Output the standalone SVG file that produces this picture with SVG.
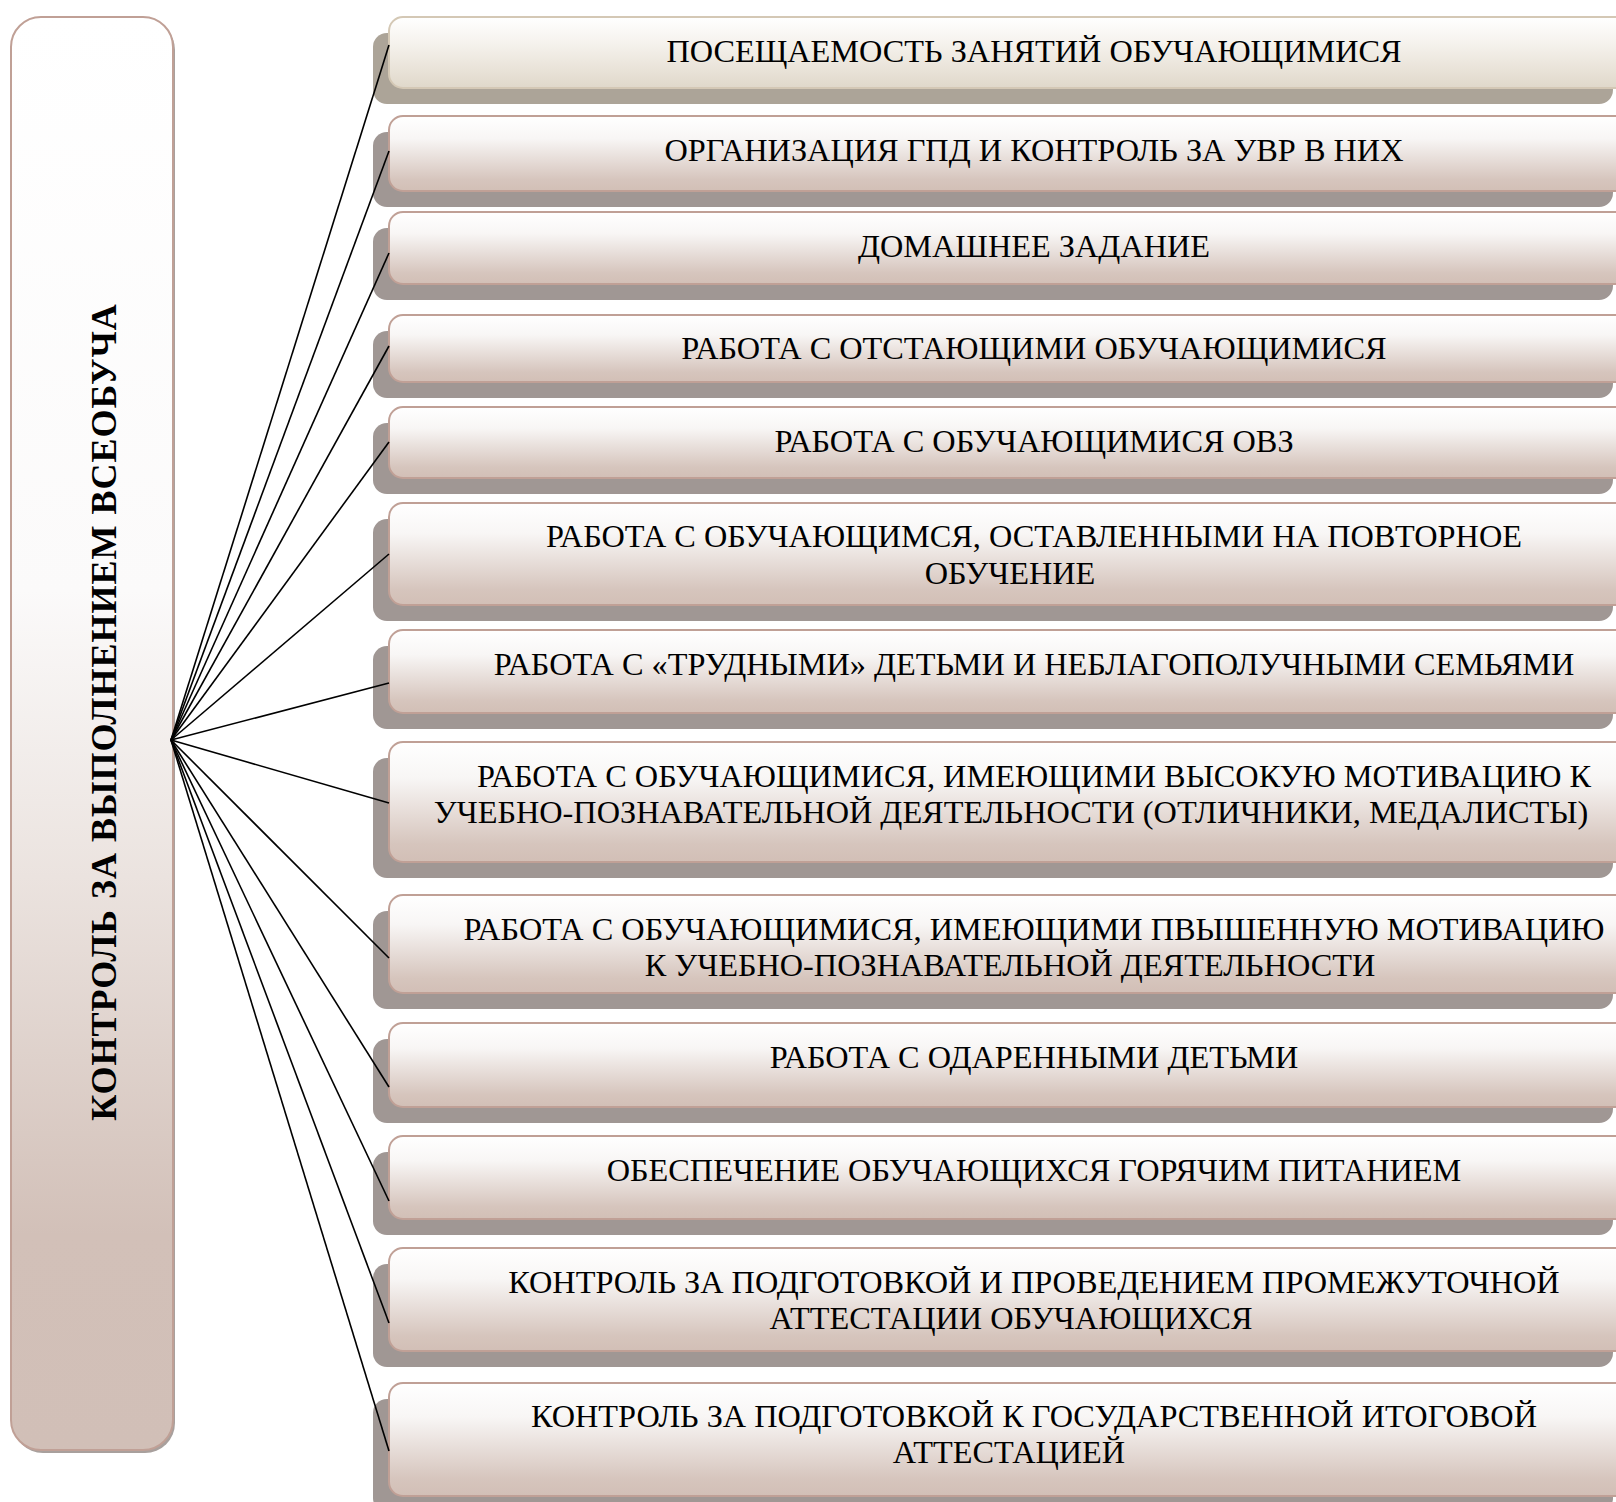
<svg xmlns="http://www.w3.org/2000/svg" width="1616" height="1502" viewBox="0 0 1616 1502">
<defs>
<linearGradient id="gBox" x1="0" y1="0" x2="0" y2="1">
<stop offset="0" stop-color="#ffffff"/>
<stop offset="0.3" stop-color="#f8f6f5"/>
<stop offset="0.85" stop-color="#d6c5bd"/>
<stop offset="1" stop-color="#d2bfb6"/>
</linearGradient>
<linearGradient id="gBox1" x1="0" y1="0" x2="0" y2="1">
<stop offset="0" stop-color="#ffffff"/>
<stop offset="0.35" stop-color="#f6f3ee"/>
<stop offset="1" stop-color="#e0d8ca"/>
</linearGradient>
<linearGradient id="gLeft" x1="0" y1="0" x2="0" y2="1">
<stop offset="0" stop-color="#ffffff"/>
<stop offset="0.4" stop-color="#fbfafa"/>
<stop offset="0.6" stop-color="#ebe3df"/>
<stop offset="0.85" stop-color="#d2c0b8"/>
<stop offset="1" stop-color="#d1bfb7"/>
</linearGradient>
</defs>
<style>
.box{fill:url(#gBox);stroke:#c0a096;stroke-width:2}
.box1{fill:url(#gBox1);stroke:#d4c8b5;stroke-width:2}
.sh{fill:#a09794}
.sh1{fill:#aca498}
.t{font-family:"Liberation Serif","Times New Roman","DejaVu Serif",serif;font-size:32.3px;fill:#000;text-anchor:middle}
.title{font-family:"Liberation Serif","Times New Roman","DejaVu Serif",serif;font-size:36px;font-weight:bold;letter-spacing:1px;fill:#000;text-anchor:middle}
.c{stroke:#000;stroke-width:1.6;fill:none}
</style>

<g id="main">
<rect x="13" y="20" width="162" height="1433" rx="30" fill="#a8a09d"/>
<rect x="11" y="17" width="162" height="1433" rx="30" fill="url(#gLeft)" stroke="#c0a096" stroke-width="2"/>
<text class="title" transform="translate(116,712) rotate(-90)">КОНТРОЛЬ ЗА ВЫПОЛНЕНИЕМ ВСЕОБУЧА</text>
</g>

<g id="n1">
<rect class="sh1" x="373" y="33" width="1240" height="71" rx="14"/>
<rect class="box1" x="389" y="17" width="1250" height="71" rx="14"/>
<text class="t" x="1034" y="62">ПОСЕЩАЕМОСТЬ ЗАНЯТИЙ ОБУЧАЮЩИМИСЯ</text>
</g>
<g id="n2">
<rect class="sh" x="373" y="132" width="1240" height="75" rx="14"/>
<rect class="box" x="389" y="116" width="1250" height="75" rx="14"/>
<text class="t" x="1034" y="161">ОРГАНИЗАЦИЯ ГПД И КОНТРОЛЬ ЗА УВР В НИХ</text>
</g>
<g id="n3">
<rect class="sh" x="373" y="228" width="1240" height="72" rx="14"/>
<rect class="box" x="389" y="212" width="1250" height="72" rx="14"/>
<text class="t" x="1034" y="257">ДОМАШНЕЕ ЗАДАНИЕ</text>
</g>
<g id="n4">
<rect class="sh" x="373" y="331" width="1240" height="67" rx="14"/>
<rect class="box" x="389" y="315" width="1250" height="67" rx="14"/>
<text class="t" x="1034" y="359">РАБОТА С ОТСТАЮЩИМИ ОБУЧАЮЩИМИСЯ</text>
</g>
<g id="n5">
<rect class="sh" x="373" y="423" width="1240" height="71" rx="14"/>
<rect class="box" x="389" y="407" width="1250" height="71" rx="14"/>
<text class="t" x="1034" y="452">РАБОТА С ОБУЧАЮЩИМИСЯ ОВЗ</text>
</g>
<g id="n6">
<rect class="sh" x="373" y="519" width="1240" height="102" rx="14"/>
<rect class="box" x="389" y="503" width="1250" height="102" rx="14"/>
<text class="t" x="1034" y="547">РАБОТА С ОБУЧАЮЩИМСЯ, ОСТАВЛЕННЫМИ НА ПОВТОРНОЕ</text>
<text class="t" x="1010" y="584">ОБУЧЕНИЕ</text>
</g>
<g id="n7">
<rect class="sh" x="373" y="646" width="1240" height="83" rx="14"/>
<rect class="box" x="389" y="630" width="1250" height="83" rx="14"/>
<text class="t" x="1034" y="675">РАБОТА С «ТРУДНЫМИ» ДЕТЬМИ И НЕБЛАГОПОЛУЧНЫМИ СЕМЬЯМИ</text>
</g>
<g id="n8">
<rect class="sh" x="373" y="758" width="1240" height="120" rx="14"/>
<rect class="box" x="389" y="742" width="1250" height="120" rx="14"/>
<text class="t" x="1034" y="787">РАБОТА С ОБУЧАЮЩИМИСЯ, ИМЕЮЩИМИ ВЫСОКУЮ МОТИВАЦИЮ К</text>
<text class="t" x="1011" y="823">УЧЕБНО-ПОЗНАВАТЕЛЬНОЙ ДЕЯТЕЛЬНОСТИ (ОТЛИЧНИКИ, МЕДАЛИСТЫ)</text>
</g>
<g id="n9">
<rect class="sh" x="373" y="911" width="1240" height="98" rx="14"/>
<rect class="box" x="389" y="895" width="1250" height="98" rx="14"/>
<text class="t" x="1034" y="940">РАБОТА С ОБУЧАЮЩИМИСЯ, ИМЕЮЩИМИ ПВЫШЕННУЮ МОТИВАЦИЮ</text>
<text class="t" x="1010" y="976">К УЧЕБНО-ПОЗНАВАТЕЛЬНОЙ ДЕЯТЕЛЬНОСТИ</text>
</g>
<g id="n10">
<rect class="sh" x="373" y="1039" width="1240" height="84" rx="14"/>
<rect class="box" x="389" y="1023" width="1250" height="84" rx="14"/>
<text class="t" x="1034" y="1068">РАБОТА С ОДАРЕННЫМИ ДЕТЬМИ</text>
</g>
<g id="n11">
<rect class="sh" x="373" y="1152" width="1240" height="83" rx="14"/>
<rect class="box" x="389" y="1136" width="1250" height="83" rx="14"/>
<text class="t" x="1034" y="1181">ОБЕСПЕЧЕНИЕ ОБУЧАЮЩИХСЯ ГОРЯЧИМ ПИТАНИЕМ</text>
</g>
<g id="n12">
<rect class="sh" x="373" y="1264" width="1240" height="103" rx="14"/>
<rect class="box" x="389" y="1248" width="1250" height="103" rx="14"/>
<text class="t" x="1034" y="1293">КОНТРОЛЬ ЗА ПОДГОТОВКОЙ И ПРОВЕДЕНИЕМ ПРОМЕЖУТОЧНОЙ</text>
<text class="t" x="1011" y="1329">АТТЕСТАЦИИ ОБУЧАЮЩИХСЯ</text>
</g>
<g id="n13">
<rect class="sh" x="373" y="1399" width="1240" height="113" rx="14"/>
<rect class="box" x="389" y="1383" width="1250" height="113" rx="14"/>
<text class="t" x="1034" y="1427">КОНТРОЛЬ ЗА ПОДГОТОВКОЙ К ГОСУДАРСТВЕННОЙ ИТОГОВОЙ</text>
<text class="t" x="1009" y="1463">АТТЕСТАЦИЕЙ</text>
</g>

<g id="connectors">
<path class="c" d="M171 740 L389 45"/>
<path class="c" d="M171 740 L389 151"/>
<path class="c" d="M171 740 L389 253"/>
<path class="c" d="M171 740 L389 346"/>
<path class="c" d="M171 740 L389 442"/>
<path class="c" d="M171 740 L389 554"/>
<path class="c" d="M171 740 L389 683"/>
<path class="c" d="M171 740 L389 803"/>
<path class="c" d="M171 740 L389 958"/>
<path class="c" d="M171 740 L389 1087"/>
<path class="c" d="M171 740 L389 1201"/>
<path class="c" d="M171 740 L389 1323"/>
<path class="c" d="M171 740 L389 1451"/>
</g>
</svg>
